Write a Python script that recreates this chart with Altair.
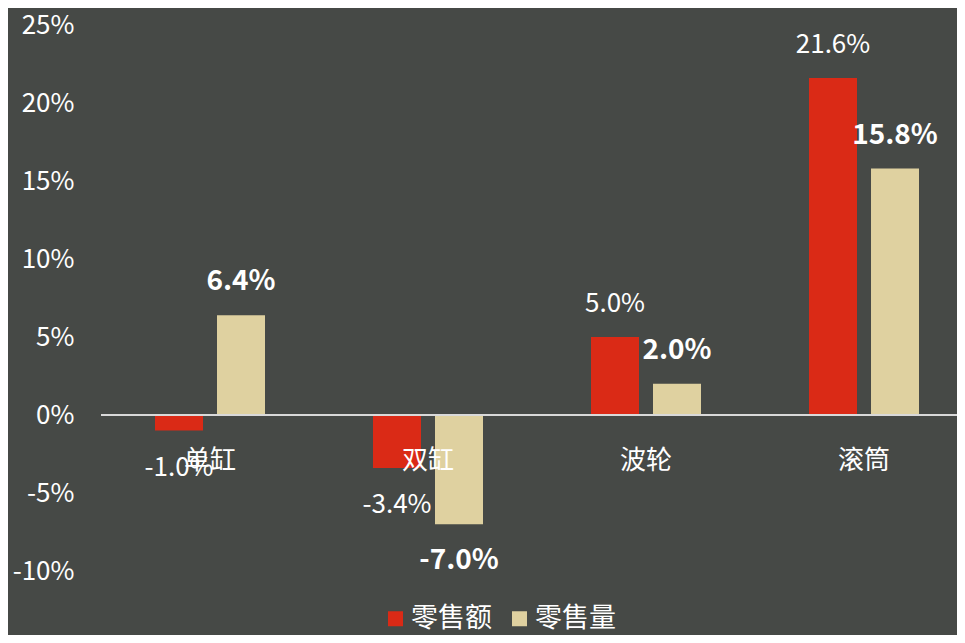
import altair as alt
import pandas as pd

categories = ["单缸", "双缸", "波轮", "滚筒"]
series = ["零售额", "零售量"]
retail_sales = [-1.0, -3.4, 5.0, 21.6]
retail_volume = [6.4, -7.0, 2.0, 15.8]
y_ticks = [-10, -5, 0, 5, 10, 15, 20, 25]
colors = ["#DA2A16", "#DFD1A0"]

rows = []
for c, a, v in zip(categories, retail_sales, retail_volume):
    rows.append({"cat": c, "series": series[0], "value": a, "label": f"{a:.1f}%"})
    rows.append({"cat": c, "series": series[1], "value": v, "label": f"{v:.1f}%"})
df = pd.DataFrame(rows)
cat_df = pd.DataFrame({"cat": categories})
zero_df = pd.DataFrame({"z": [0]})

FONT = "Noto Sans CJK SC"
W, H = 856, 546

xenc = alt.X("cat:N", sort=categories, axis=None,
             scale=alt.Scale(paddingInner=0.4954, paddingOuter=0.211, align=0.587))
xoff = alt.XOffset("series:N", sort=series,
                   scale=alt.Scale(paddingInner=0.2258, paddingOuter=0))
yscale = alt.Scale(domain=[-10, 25], nice=False, zero=False)
yaxis = alt.Axis(values=y_ticks, labelExpr="datum.value + '%'", grid=False, domain=False,
                 ticks=False, labelFontSize=26, labelColor="#ffffff", labelFont=FONT,
                 labelPadding=27, title=None)

base = alt.Chart(df).encode(
    x=xenc, xOffset=xoff,
    y=alt.Y("value:Q", scale=yscale, axis=yaxis),
)

bars = base.mark_bar().encode(
    color=alt.Color("series:N", sort=series,
                    scale=alt.Scale(domain=series, range=colors),
                    legend=alt.Legend(orient="none", legendX=281, legendY=580,
                                      direction="horizontal", symbolType="square",
                                      symbolSize=225, symbolStrokeWidth=0,
                                      symbolOpacity=1, labelFontSize=27,
                                      labelColor="#ffffff", labelFont=FONT,
                                      labelOffset=2, columnPadding=14, title=None))
)

def label_layer(s, positive, bold):
    cond = f"datum.series == '{s}' && datum.value {'>=' if positive else '<'} 0"
    return base.mark_text(
        dy=-33 if positive else 37, fontSize=28 if bold else 26, color="#ffffff", font=FONT,
        fontWeight="bold" if bold else "normal", baseline="middle", align="center"
    ).encode(text="label:N").transform_filter(cond)

zero = alt.Chart(zero_df).mark_rule(color="#d9d9d9", strokeWidth=2).encode(
    y=alt.Y("z:Q", scale=yscale))

cat_labels = alt.Chart(cat_df).mark_text(
    dy=46, fontSize=26, color="#ffffff", font=FONT, baseline="middle", align="center"
).encode(x=xenc, y=alt.Y("z:Q", scale=yscale), text="cat:N").transform_calculate(z="0")

chart = alt.layer(
    bars, zero,
    label_layer(series[0], True, False), label_layer(series[0], False, False),
    label_layer(series[1], True, True), label_layer(series[1], False, True),
    cat_labels,
).properties(
    width=W, height=H,
    autosize=alt.AutoSizeParams(type="none"),
    padding={"left": 93, "top": 17, "right": 0, "bottom": 64},
    background="#464946",
).configure_view(stroke=None)

chart.save("out.html", embed_options={"renderer": "svg", "actions": False})
